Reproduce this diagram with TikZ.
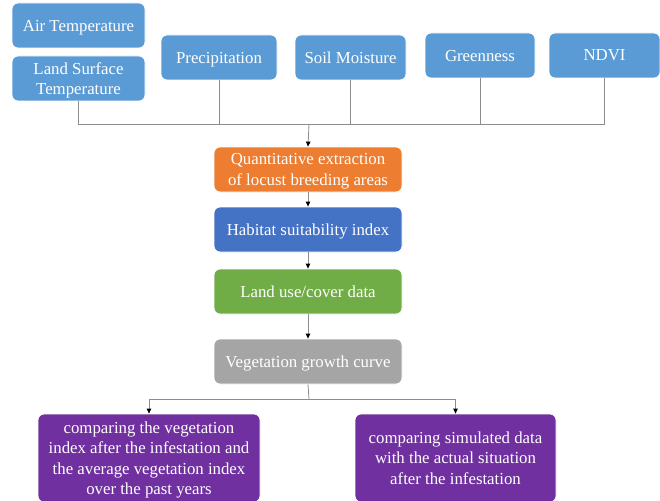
\documentclass[tikz,border=0pt]{standalone}
\usepackage{fontspec}
\setmainfont{Liberation Serif}
\usetikzlibrary{arrows.meta}
\definecolor{cLB}{HTML}{5B9BD5}
\definecolor{cOR}{HTML}{ED7D31}
\definecolor{cBL}{HTML}{4472C4}
\definecolor{cGR}{HTML}{70AD47}
\definecolor{cGY}{HTML}{A5A5A5}
\definecolor{cPU}{HTML}{7030A0}
\definecolor{cLN}{HTML}{8C8C8C}
\tikzset{
  boxstyle/.style={rounded corners=6pt, draw=white, line width=0.8pt, text=white, align=center,
    inner sep=0pt, text depth=0pt, font=\fontsize{16.8}{20.5}\selectfont},
  topbox/.style={boxstyle, fill=cLB, minimum height=45pt},
  midbox/.style={boxstyle, minimum width=188pt, minimum height=45pt},
  botbox/.style={boxstyle, fill=cPU, minimum height=88pt},
  conn/.style={draw=cLN, line width=0.8pt},
  arr/.style={conn, -{Triangle[length=5pt,width=4.5pt,color=black]}}
}
\begin{document}
\begin{tikzpicture}[x=1pt,y=-1pt]
\path[use as bounding box] (0,0) rectangle (660,500);
\clip (0,0) rectangle (660,500);
\node[topbox, minimum width=133pt] (air) at (78.5,25.5) {Air Temperature};
\node[topbox, minimum width=133pt] (lst) at (78.5,78.5) {Land Surface\\Temperature};
\node[topbox, minimum width=116pt] (pre) at (219,57.5) {Precipitation};
\node[topbox, minimum width=111pt] (soil) at (350.5,57.5) {Soil Moisture};
\node[topbox, minimum width=110pt] (grn) at (480,55.5) {Greenness};
\node[topbox, minimum width=111pt] (ndvi) at (604.5,55.5) {NDVI};
\coordinate (bus) at (309,124);
\node[midbox, fill=cOR] (ext) at (308,169.5) {Quantitative extraction\\of locust breeding areas};
\node[midbox, fill=cBL] (hsi) at (308,229.5) {Habitat suitability index};
\node[midbox, fill=cGR] (luc) at (308,291.5) {Land use/cover data};
\node[midbox, fill=cGY] (veg) at (308,361.5) {Vegetation growth curve};
\coordinate (split) at (309,399);
\node[botbox, minimum width=222pt] (cmpA) at (149,458) {comparing the vegetation\\index after the infestation and\\the average vegetation index\\over the past years};
\node[botbox, minimum width=201pt] (cmpB) at (455.5,458) {comparing simulated data\\with the actual situation\\after the infestation};
\draw[conn] (lst.south) |- (bus);
\draw[conn] (pre.south) |- (bus);
\draw[conn] (soil.south) |- (bus);
\draw[conn] (grn.south) |- (bus);
\draw[conn] (ndvi.south) |- (bus);
\draw[arr] (bus) -- (ext.north);
\draw[arr] (ext.south) -- (hsi.north);
\draw[arr] (hsi.south) -- (luc.north);
\draw[arr] (luc.south) -- (veg.north);
\draw[conn] (veg.south) -- (split);
\draw[arr] (split) -| (cmpA.north);
\draw[arr] (split) -| (cmpB.north);
\end{tikzpicture}
\end{document}
